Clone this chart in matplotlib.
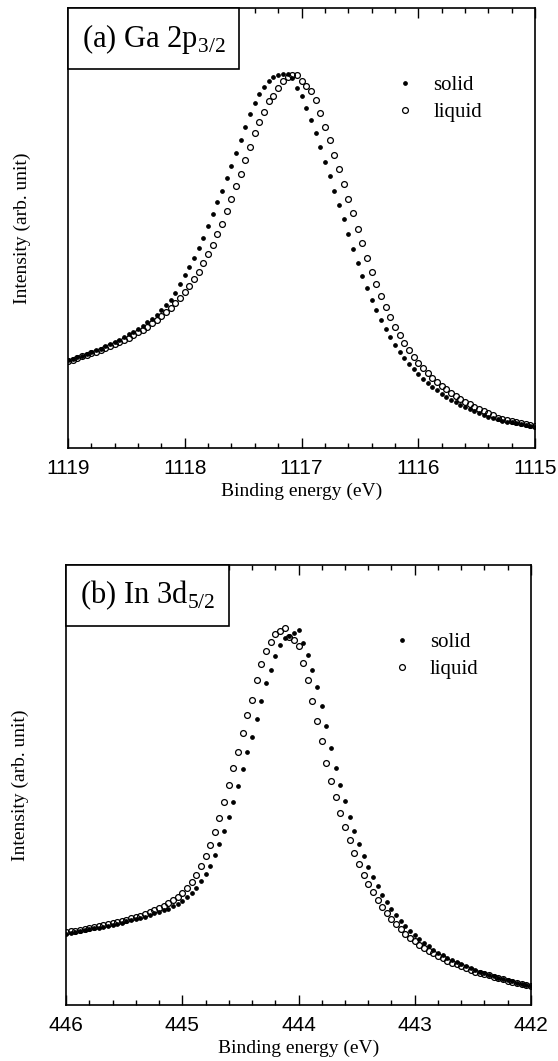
import matplotlib
matplotlib.use("Agg")
import matplotlib.pyplot as plt
import numpy as np
from matplotlib.offsetbox import AnchoredText
from matplotlib.ticker import MultipleLocator

plt.rcParams['font.family'] = 'Liberation Serif'
plt.rcParams['mathtext.fontset'] = 'custom'
plt.rcParams['mathtext.rm'] = 'Liberation Serif'

# Ga 2p3/2, 1119 -> 1115 eV, 0.04 eV steps
ga_solid = [0.200, 0.203, 0.207, 0.210, 0.214, 0.218, 0.222, 0.226, 0.231, 0.236,
            0.241, 0.246, 0.252, 0.258, 0.264, 0.271, 0.278, 0.286, 0.294, 0.303,
            0.313, 0.324, 0.336, 0.352, 0.372, 0.393, 0.412, 0.432, 0.455, 0.478,
            0.505, 0.532, 0.558, 0.585, 0.613, 0.641, 0.670, 0.700, 0.730, 0.760,
            0.785, 0.805, 0.820, 0.833, 0.842, 0.848, 0.851, 0.850, 0.840, 0.818,
            0.800, 0.773, 0.745, 0.715, 0.684, 0.650, 0.618, 0.585, 0.552, 0.520,
            0.486, 0.453, 0.421, 0.391, 0.363, 0.337, 0.313, 0.291, 0.271, 0.252,
            0.235, 0.219, 0.204, 0.191, 0.179, 0.168, 0.157, 0.148, 0.139, 0.131,
            0.123, 0.116, 0.110, 0.104, 0.098, 0.093, 0.088, 0.084, 0.080, 0.076,
            0.071, 0.068, 0.065, 0.062, 0.060, 0.058, 0.056, 0.054, 0.052, 0.050,
            0.048]
ga_liquid = [0.198, 0.201, 0.204, 0.208, 0.211, 0.215, 0.219, 0.223, 0.227, 0.231,
             0.236, 0.241, 0.246, 0.251, 0.257, 0.263, 0.269, 0.276, 0.283, 0.291,
             0.299, 0.308, 0.318, 0.329, 0.341, 0.354, 0.368, 0.384, 0.401, 0.420,
             0.440, 0.462, 0.487, 0.510, 0.538, 0.566, 0.595, 0.622, 0.655, 0.685,
             0.715, 0.740, 0.763, 0.788, 0.800, 0.818, 0.834, 0.843, 0.848, 0.847,
             0.835, 0.823, 0.812, 0.790, 0.762, 0.730, 0.700, 0.665, 0.633, 0.600,
             0.566, 0.533, 0.498, 0.465, 0.432, 0.401, 0.372, 0.345, 0.320, 0.297,
             0.276, 0.256, 0.239, 0.222, 0.207, 0.194, 0.182, 0.170, 0.160, 0.150,
             0.141, 0.133, 0.125, 0.118, 0.111, 0.105, 0.099, 0.093, 0.088, 0.084,
             0.080, 0.076, 0.069, 0.066, 0.063, 0.061, 0.059, 0.057, 0.055, 0.053,
             0.051]

# In 3d5/2, 446 -> 442 eV, 0.04 eV steps
in_solid = [0.162, 0.164, 0.166, 0.168, 0.170, 0.172, 0.174, 0.176, 0.178, 0.180,
            0.182, 0.185, 0.187, 0.190, 0.192, 0.195, 0.198, 0.201, 0.204, 0.208,
            0.211, 0.215, 0.219, 0.224, 0.230, 0.237, 0.245, 0.255, 0.267, 0.281,
            0.298, 0.317, 0.340, 0.366, 0.395, 0.428, 0.462, 0.498, 0.536, 0.574,
            0.610, 0.651, 0.690, 0.731, 0.762, 0.793, 0.818, 0.833, 0.838, 0.845,
            0.853, 0.822, 0.795, 0.762, 0.722, 0.680, 0.633, 0.583, 0.538, 0.500,
            0.463, 0.428, 0.396, 0.366, 0.339, 0.314, 0.291, 0.270, 0.251, 0.234,
            0.218, 0.204, 0.191, 0.179, 0.168, 0.158, 0.149, 0.141, 0.133, 0.126,
            0.119, 0.113, 0.107, 0.102, 0.097, 0.092, 0.088, 0.084, 0.080, 0.076,
            0.072, 0.068, 0.065, 0.062, 0.059, 0.056, 0.054, 0.051, 0.048, 0.046,
            0.043]
in_liquid = [0.165, 0.167, 0.169, 0.171, 0.173, 0.175, 0.177, 0.179, 0.181, 0.183,
             0.186, 0.188, 0.191, 0.194, 0.197, 0.200, 0.203, 0.207, 0.211, 0.215,
             0.220, 0.225, 0.231, 0.238, 0.246, 0.255, 0.266, 0.280, 0.296, 0.315,
             0.338, 0.364, 0.393, 0.426, 0.462, 0.500, 0.538, 0.575, 0.618, 0.658,
             0.693, 0.738, 0.776, 0.805, 0.826, 0.843, 0.850, 0.856, 0.836, 0.830,
             0.815, 0.778, 0.738, 0.690, 0.645, 0.600, 0.550, 0.510, 0.472, 0.437,
             0.405, 0.374, 0.346, 0.320, 0.296, 0.275, 0.256, 0.238, 0.222, 0.208,
             0.195, 0.183, 0.172, 0.162, 0.153, 0.145, 0.137, 0.130, 0.123, 0.117,
             0.111, 0.106, 0.101, 0.096, 0.092, 0.088, 0.084, 0.080, 0.076, 0.073,
             0.070, 0.067, 0.064, 0.061, 0.058, 0.055, 0.053, 0.050, 0.048, 0.045,
             0.042]

panels = [
    ("(a) Ga 2p$_{\\mathregular{3/2}}$", (1119, 1115), ga_solid, ga_liquid,
     [0.1219, 0.5778, 0.8369, 0.4147]),
    ("(b) In 3d$_{\\mathregular{5/2}}$", (446, 442), in_solid, in_liquid,
     [0.1183, 0.0528, 0.8333, 0.4147]),
]

fig = plt.figure(figsize=(5.58, 10.61), dpi=100)

for title, (e0, e1), solid, liquid, rect in panels:
    ax = fig.add_axes(rect)
    energy = np.linspace(e0, e1, len(solid))
    ax.plot(energy, solid, ls='', marker='o', ms=2.4, color='black', label='solid')
    ax.plot(energy, liquid, ls='', marker='o', ms=4.2, mfc='none', mec='black',
            mew=0.9, label='liquid')
    ax.set_xlim(e0, e1)
    ax.set_ylim(0, 1)
    ax.set_yticks([])
    ax.xaxis.set_major_locator(MultipleLocator(1))
    ax.xaxis.set_minor_locator(MultipleLocator(0.2))
    ax.tick_params(axis='x', which='both', direction='in', top=True, width=1.0)
    ax.tick_params(axis='x', which='major', length=7, pad=8)
    ax.tick_params(axis='x', which='minor', length=3.6)
    for lab in ax.get_xticklabels():
        lab.set_family('Liberation Sans')
        lab.set_fontsize(15)
    for sp in ax.spines.values():
        sp.set_linewidth(1.2)
    ax.set_xlabel('Binding energy (eV)', fontsize=14, labelpad=3)
    ax.set_ylabel('Intensity (arb. unit)', fontsize=14, labelpad=27)

    box = AnchoredText(title, loc='upper left', pad=0.45, borderpad=0,
                       prop=dict(size=22, family='Liberation Serif'), frameon=True)
    box.patch.set_boxstyle('square', pad=0)
    box.patch.set_linewidth(1.2)
    ax.add_artist(box)

    ax.legend(loc='upper left', bbox_to_anchor=(0.70, 0.846), frameon=False,
              fontsize=15, handlelength=1.0, handletextpad=0.85,
              labelspacing=0.35, borderpad=0, borderaxespad=0)

fig.savefig('out.png', dpi=100)
